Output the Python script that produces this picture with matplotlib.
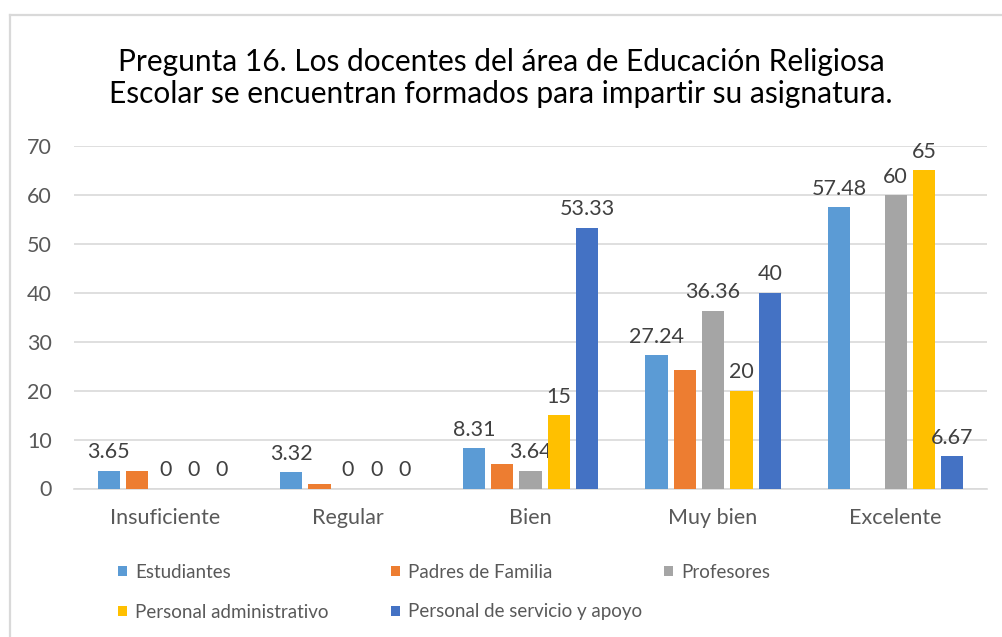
import numpy as np
import matplotlib
matplotlib.use("Agg")
import matplotlib.pyplot as plt
from matplotlib.patches import Patch
from matplotlib.lines import Line2D

categories = ["Insuficiente", "Regular", "Bien", "Muy bien", "Excelente"]
series_names = ["Estudiantes", "Padres de Familia", "Profesores",
                "Personal administrativo", "Personal de servicio y apoyo"]
estudiantes = [3.65, 3.32, 8.31, 27.24, 57.48]
padres = [3.5, 1.0, 5.0, 24.2, np.nan]
profesores = [0, 0, 3.64, 36.36, 60]
administrativo = [0, 0, 15, 20, 65]
servicio = [0, 0, 53.33, 40, 6.67]
show_labels = [True, False, True, True, True]
yticks = [0, 10, 20, 30, 40, 50, 60, 70]
title = ("Pregunta 16. Los docentes del área de Educación Religiosa\n"
         "Escolar se encuentran formados para impartir su asignatura.")

colors = ["#5B9BD5", "#ED7D31", "#A5A5A5", "#FFC000", "#4472C4"]
values = [estudiantes, padres, profesores, administrativo, servicio]

plt.rcParams['font.family'] = ['Lato', 'DejaVu Sans']

W, H = 1003, 637
fig = plt.figure(figsize=(W / 100, H / 100), dpi=100)
ax = fig.add_axes([74 / W, 1 - 488.5 / H, (987 - 74) / W, (488.5 - 146) / H])

x = np.arange(len(categories))
step = 0.155
bw = 0.122
for i, (vals, col, lab) in enumerate(zip(values, colors, show_labels)):
    pos = x + (i - 2) * step
    ax.bar(pos, vals, width=bw, color=col, zorder=3)
    if lab:
        for p, v in zip(pos, vals):
            if np.isnan(v):
                continue
            ax.annotate(f"{v:g}", (p, v), xytext=(0, 6), textcoords="offset points",
                        ha="center", va="bottom", fontsize=15.5, color="#404040")

ax.set_xlim(-0.5, len(categories) - 0.5)
ax.set_ylim(0, 70)
ax.set_yticks(yticks)
ax.set_xticks(x)
ax.set_xticklabels(categories)
ax.grid(axis="y", color="#d9d9d9", linewidth=1.2, zorder=0)
for s in ["top", "right", "left"]:
    ax.spines[s].set_visible(False)
ax.spines["bottom"].set_color("#d9d9d9")
ax.spines["bottom"].set_linewidth(1.2)
ax.tick_params(axis="both", length=0, labelsize=15.5, labelcolor="#595959")
ax.tick_params(axis="y", pad=16)
ax.tick_params(axis="x", pad=14)

fig.text(501 / W, 1 - 78 / H, title, ha="center", va="center", fontsize=21.5,
         color="#000000", linespacing=1.2)

# legend entries
leg_pos = [(118, 572), (391, 572), (664, 572), (118, 612), (391, 612)]
for name, col, (lx, ly) in zip(series_names, colors, leg_pos):
    fig.legend(handles=[Patch(facecolor=col, edgecolor="none")], labels=[name],
               loc="center left", bbox_to_anchor=(lx / W, 1 - ly / H),
               frameon=False, borderpad=0, borderaxespad=0, fontsize=13.5,
               handlelength=0.5, handleheight=0.5, handletextpad=0.4,
               labelcolor="#595959")

# chart border
fig.add_artist(Line2D([10 / W, 1], [1 - 15 / H, 1 - 15 / H], color="#d9d9d9", lw=1.6))
fig.add_artist(Line2D([10 / W, 10 / W], [1 - 15 / H, 0], color="#d9d9d9", lw=1.6))

fig.savefig("out.png", dpi=100, facecolor="white")
